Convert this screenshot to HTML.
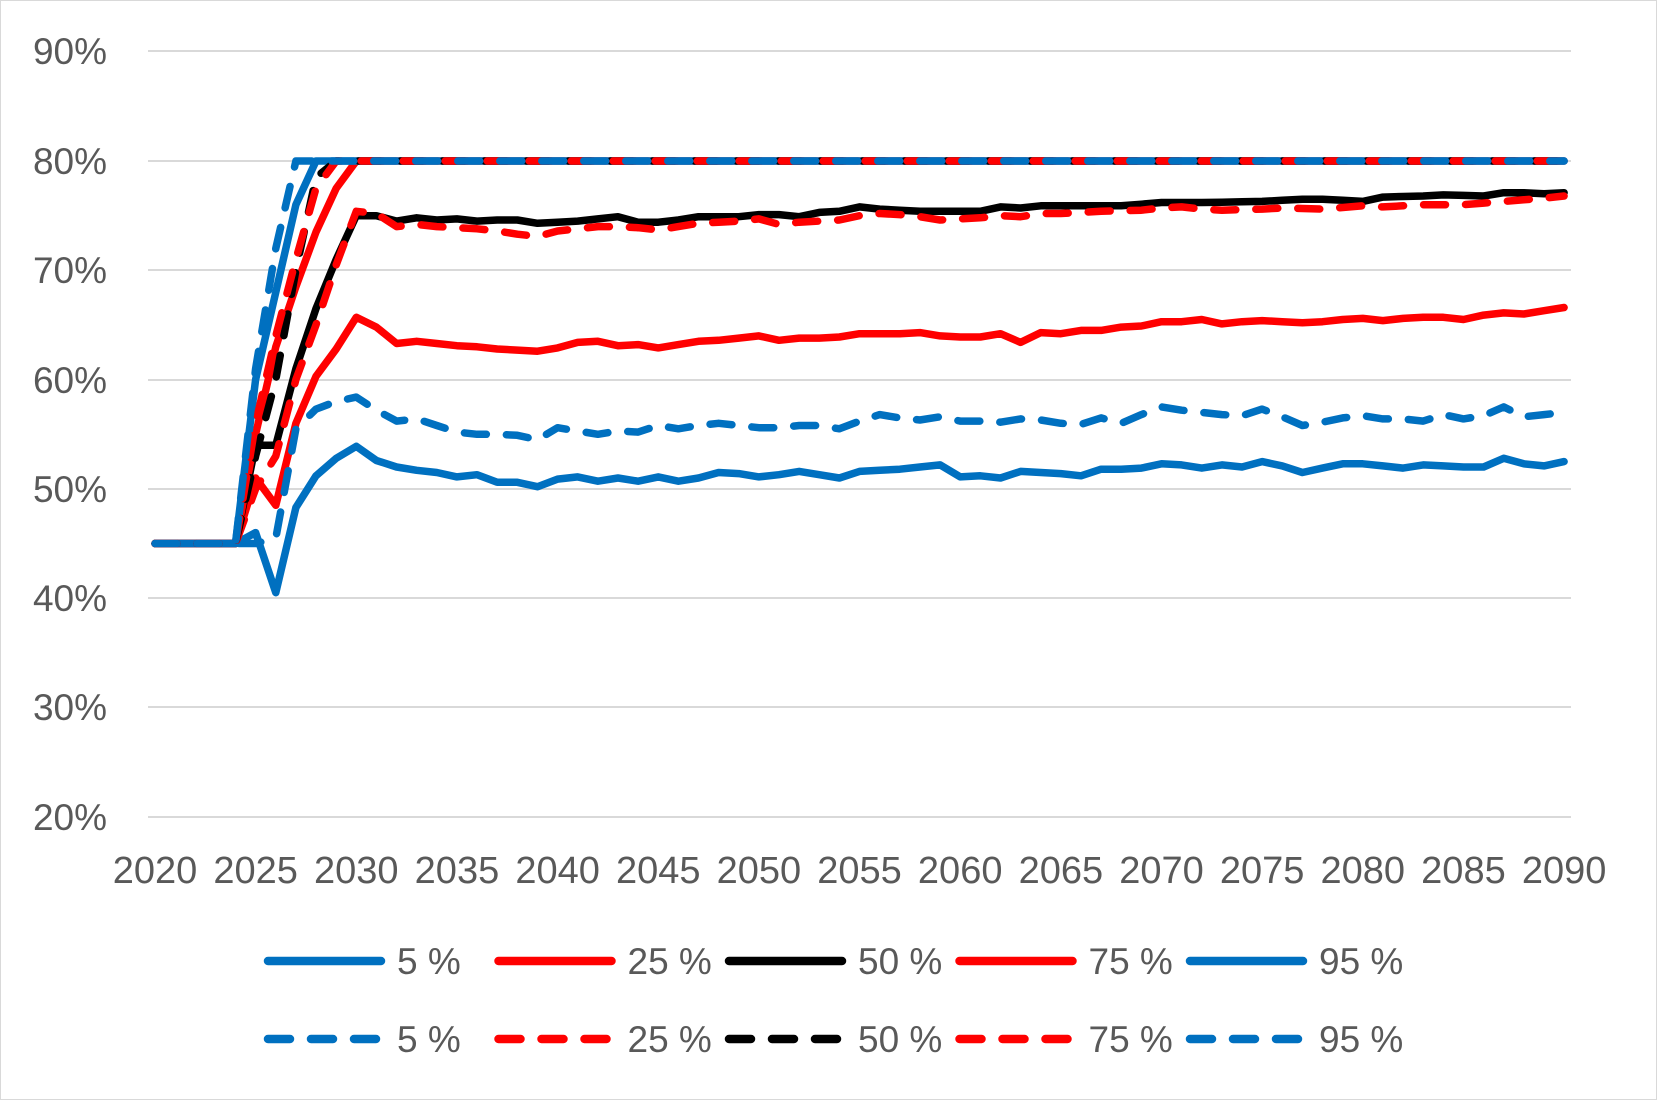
<!DOCTYPE html>
<html><head><meta charset="utf-8"><style>
html,body{margin:0;padding:0;background:#fff;}
svg{display:block;}
text{font-family:"Liberation Sans",sans-serif;fill:#595959;}
</style></head><body>
<svg id="s" width="1657" height="1100" xmlns="http://www.w3.org/2000/svg">
<rect x="0.5" y="0.5" width="1656" height="1099" fill="#fff" stroke="#d9d9d9" stroke-width="1"/>
<g stroke="#d9d9d9" stroke-width="2">
<line x1="148" x2="1571" y1="51" y2="51"/>
<line x1="148" x2="1571" y1="161" y2="161"/>
<line x1="148" x2="1571" y1="270" y2="270"/>
<line x1="148" x2="1571" y1="380" y2="380"/>
<line x1="148" x2="1571" y1="489" y2="489"/>
<line x1="148" x2="1571" y1="598" y2="598"/>
<line x1="148" x2="1571" y1="707" y2="707"/>
<line x1="148" x2="1571" y1="817" y2="817"/>
</g>
<g font-size="37" text-anchor="end">
<text x="107" y="64">90%</text>
<text x="107" y="174">80%</text>
<text x="107" y="283">70%</text>
<text x="107" y="393">60%</text>
<text x="107" y="502">50%</text>
<text x="107" y="611">40%</text>
<text x="107" y="720">30%</text>
<text x="107" y="830">20%</text>
</g>
<g font-size="38" text-anchor="middle" id="xl"></g>
<g id="lines" fill="none" stroke-width="7.5" stroke-linejoin="round" stroke-linecap="round"></g>
<g id="leg" stroke-width="8.5" stroke-linecap="round" font-size="37"></g>
</svg>
<script>
var NS="http://www.w3.org/2000/svg";
var x0=155,dx=20.13;
function X(yr){return x0+(yr-2020)*dx;}
function Y(v){return 161+(80-v)*10.93;}
var xl=document.getElementById('xl');
for(var yr=2020;yr<=2090;yr+=5){var t=document.createElementNS(NS,'text');t.setAttribute('x',X(yr));t.setAttribute('y',883);t.textContent=yr;xl.appendChild(t);}
function interp(k){var ys=Object.keys(k).map(Number).sort(function(a,b){return a-b});var out=[];
for(var yr=2020;yr<=2090;yr++){var v;if(k[yr]!==undefined)v=k[yr];else{for(var i=0;i<ys.length-1;i++){if(yr>ys[i]&&yr<ys[i+1]){v=k[ys[i]]+(k[ys[i+1]]-k[ys[i]])*(yr-ys[i])/(ys[i+1]-ys[i]);}}}out.push(v);}return out;}
var B='#0070c0',R='#ff0000',K='#000000';
var s5=interp({2020:45,2024:45,2025:46,2026:40.5,2027:48.3,2028:51.2,2029:52.8,2030:53.9,2031:52.6,2032:52,2033:51.7,2034:51.5,2035:51.1,2036:51.3,2037:50.6,2038:50.6,2039:50.2,2040:50.9,2041:51.1,2042:50.7,2043:51,2044:50.7,2045:51.1,2046:50.7,2047:51,2048:51.5,2049:51.4,2050:51.1,2051:51.3,2052:51.6,2053:51.3,2054:51,2055:51.6,2056:51.7,2057:51.8,2058:52,2059:52.2,2060:51.1,2061:51.2,2062:51,2063:51.6,2064:51.5,2065:51.4,2066:51.2,2067:51.8,2068:51.8,2069:51.9,2070:52.3,2071:52.2,2072:51.9,2073:52.2,2074:52,2075:52.5,2076:52.1,2077:51.5,2078:51.9,2079:52.3,2080:52.3,2081:52.1,2082:51.9,2083:52.2,2084:52.1,2085:52,2086:52,2087:52.8,2088:52.3,2089:52.1,2090:52.5});
var s25=interp({2020:45,2024:45,2025:51,2026:48.5,2027:56,2028:60.3,2029:62.8,2030:65.7,2031:64.8,2032:63.3,2033:63.5,2034:63.3,2035:63.1,2036:63,2037:62.8,2038:62.7,2039:62.6,2040:62.9,2041:63.4,2042:63.5,2043:63.1,2044:63.2,2045:62.9,2046:63.2,2047:63.5,2048:63.6,2049:63.8,2050:64,2051:63.6,2052:63.8,2053:63.8,2054:63.9,2055:64.2,2056:64.2,2057:64.2,2058:64.3,2059:64,2060:63.9,2061:63.9,2062:64.2,2063:63.4,2064:64.3,2065:64.2,2066:64.5,2067:64.5,2068:64.8,2069:64.9,2070:65.3,2071:65.3,2072:65.5,2073:65.1,2074:65.3,2075:65.4,2076:65.3,2077:65.2,2078:65.3,2079:65.5,2080:65.6,2081:65.4,2082:65.6,2083:65.7,2084:65.7,2085:65.5,2086:65.9,2087:66.1,2088:66,2089:66.3,2090:66.6});
var s50=interp({2020:45,2024:45,2025:54,2026:54,2027:61,2028:66.5,2029:71,2030:75,2031:75,2032:74.5,2033:74.8,2034:74.6,2035:74.7,2036:74.5,2037:74.6,2038:74.6,2039:74.3,2040:74.4,2041:74.5,2042:74.7,2043:74.9,2044:74.4,2045:74.4,2046:74.6,2047:74.9,2048:74.9,2049:74.9,2050:75.1,2051:75.1,2052:74.9,2053:75.3,2054:75.4,2055:75.8,2056:75.6,2057:75.5,2058:75.4,2059:75.4,2060:75.4,2061:75.4,2062:75.8,2063:75.7,2064:75.9,2065:75.9,2068:75.9,2070:76.2,2072:76.2,2075:76.3,2077:76.5,2078:76.5,2080:76.3,2081:76.7,2083:76.8,2084:76.9,2086:76.8,2087:77.1,2088:77.1,2089:77,2090:77.1});
var s75=interp({2020:45,2024:45,2025:55,2026:63,2027:68.5,2028:73.5,2029:77.5,2030:80,2090:80});
var s95=interp({2020:45,2024:45,2025:60,2026:68,2027:76,2028:80,2090:80});
var d5=interp({2020:45,2025:45,2026:45.5,2027:55.5,2028:57.3,2029:58,2030:58.4,2031:57.2,2032:56.2,2033:56.4,2034:55.8,2035:55.2,2036:55,2037:55,2038:54.9,2039:54.5,2040:55.6,2041:55.3,2042:55,2043:55.3,2044:55.2,2045:55.8,2046:55.5,2047:55.8,2048:56,2049:55.8,2050:55.6,2051:55.6,2052:55.8,2053:55.8,2054:55.5,2055:56.2,2056:56.8,2057:56.5,2058:56.3,2059:56.6,2060:56.2,2061:56.2,2062:56.1,2063:56.4,2064:56.3,2065:56,2066:55.9,2067:56.5,2068:56,2069:56.8,2070:57.5,2071:57.2,2072:57,2073:56.8,2074:56.7,2075:57.3,2076:56.6,2077:55.8,2078:56.1,2079:56.5,2080:56.7,2081:56.4,2082:56.4,2083:56.2,2084:56.8,2085:56.4,2086:56.7,2087:57.5,2088:56.6,2089:56.8,2090:57});
var d25=interp({2020:45,2024:45,2025:50,2026:53,2027:60,2028:65,2029:70.5,2030:75.4,2031:75.2,2032:74,2033:74.2,2034:74,2035:73.9,2036:73.8,2037:73.6,2038:73.3,2039:73.1,2040:73.6,2042:74,2043:74,2044:73.9,2045:73.7,2046:74,2047:74.3,2048:74.4,2049:74.5,2050:74.7,2051:74.2,2052:74.4,2053:74.5,2054:74.6,2055:75,2056:75.2,2057:75.1,2058:74.9,2059:74.6,2060:74.7,2061:74.8,2062:75,2063:74.9,2064:75.2,2065:75.2,2067:75.4,2069:75.5,2070:75.7,2071:75.8,2072:75.6,2073:75.5,2075:75.6,2076:75.7,2078:75.6,2080:75.9,2081:75.8,2083:76,2085:76,2087:76.3,2089:76.6,2090:76.8});
var d50=interp({2020:45,2024:45,2025:53,2026:60,2027:70,2028:78.5,2029:80,2090:80});
var d75=interp({2020:45,2024:45,2025:56,2026:64,2027:71,2028:77.5,2029:80,2090:80});
var d95=interp({2020:45,2024:45,2025:61,2026:72,2027:80,2090:80});
var series=[[s5,B,0],[s25,R,0],[s50,K,0],[s75,R,0],[s95,B,0],[d5,B,1],[d25,R,1],[d50,K,1],[d75,R,1],[d95,B,1]];
var g=document.getElementById('lines');
series.forEach(function(s){var d='';s[0].forEach(function(v,i){d+=(i?'L':'M')+X(2020+i).toFixed(1)+','+Y(v).toFixed(1);});
var p=document.createElementNS(NS,'path');p.setAttribute('d',d);p.setAttribute('stroke',s[1]);if(s[2])p.setAttribute('stroke-dasharray','22 20');g.appendChild(p);});
var lg=document.getElementById('leg');var labs=['5 %','25 %','50 %','75 %','95 %'];
series.forEach(function(s,i){var col=i%5,row=Math.floor(i/5);var lx=268+col*230.5,ly=row?1039:961;
var l=document.createElementNS(NS,'line');l.setAttribute('x1',lx);l.setAttribute('x2',lx+113);l.setAttribute('y1',ly);l.setAttribute('y2',ly);l.setAttribute('stroke',s[1]);if(s[2])l.setAttribute('stroke-dasharray','22 21');lg.appendChild(l);
var t=document.createElementNS(NS,'text');t.setAttribute('x',lx+129);t.setAttribute('y',ly+13);t.setAttribute('stroke','none');t.textContent=labs[col];lg.appendChild(t);});
</script>
</body></html>
